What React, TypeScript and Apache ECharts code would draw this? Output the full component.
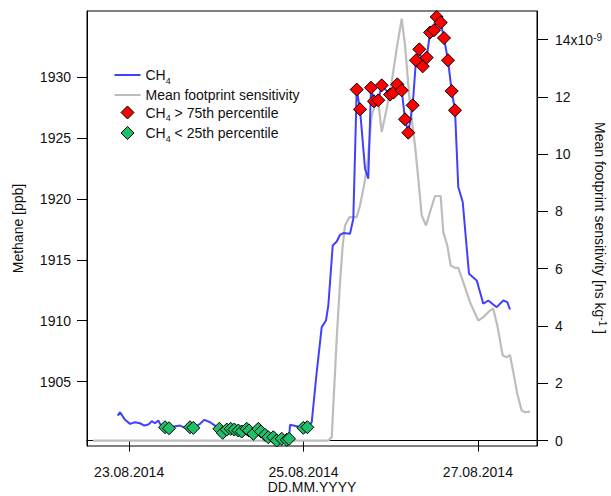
import React, { useEffect, useRef } from "react";
import * as echarts from "echarts";

const BASE = Date.UTC(2014, 7, 25); // 25.08.2014 00:00
const HOUR = 3600000;

const xTickLabels = ["23.08.2014", "25.08.2014", "27.08.2014"];
const xTickHours = [-48, 0, 48];
const leftTicks = [1905, 1910, 1915, 1920, 1925, 1930];
const rightTicks = [0, 2, 4, 6, 8, 10, 12, 14];

// CH4 line samples (hours from 25.08.2014 00:00, ppb) – excluding marker points
const ch4Hours = [
  -51.14, -50.5, -49.13, -47.75, -46.38, -45.0, -43.82, -42.72, -41.78, -40.87, -39.96, -39.5,
  -35.56, -33.99, -32.61, -28.49, -27.3, -25.73, -24.36, -3.72, -1.87, 2.26, 3.63, 5.01, 6.19,
  6.83, 8.04, 9.14, 10.05, 10.95, 12.8, 13.71, 16.93, 17.83, 42.6, 43.82, 45.55, 47.67, 49.49,
  50.86, 53.17, 54.99, 56.09, 56.84,
];
const ch4Ppb = [
  1902.2, 1902.48, 1901.85, 1901.52, 1901.65, 1901.57, 1901.38, 1901.46, 1901.74, 1901.57, 1901.79,
  1901.52, 1901.3, 1901.38, 1901.19, 1901.52, 1901.85, 1901.65, 1901.38, 1901.44, 1901.32, 1901.65,
  1905.76, 1909.47, 1910.02, 1911.25, 1916.18, 1916.51, 1917.06, 1917.2, 1917.15, 1918.38, 1922.49,
  1921.67, 1920.98, 1919.75, 1913.86, 1913.31, 1911.39, 1911.66, 1911.11, 1911.66, 1911.52, 1910.92,
];

// CH4 > 75th percentile
const highHours = [
  14.64, 15.55, 18.58, 19.4, 20.59, 21.52, 23.81, 24.72, 25.82, 27.03, 27.94, 28.84, 30.05, 30.96,
  31.87, 32.81, 33.91, 34.82, 35.92, 36.66, 37.76, 38.67, 39.77, 40.79, 41.7,
];
const highPpb = [
  1928.99, 1927.37, 1929.15, 1928.03, 1928.11, 1929.34, 1928.58, 1928.74, 1929.42, 1928.93, 1926.55,
  1925.45, 1927.7, 1931.4, 1932.3, 1930.9, 1931.62, 1933.68, 1933.87, 1934.96, 1934.5, 1933.23,
  1931.4, 1928.87, 1927.29,
];

// CH4 < 25th percentile
const lowHours = [
  -38.12, -37.02, -31.24, -30.33, -23.17, -22.24, -21.14, -20.04, -19.05, -17.94, -17.01, -15.63,
  -15.0, -13.82, -12.44, -11.7, -10.6, -9.69, -8.31, -7.38, -6.0, -4.62, -3.99, -0.06, 1.05,
];
const lowPpb = [
  1901.24, 1901.16, 1901.24, 1901.19, 1901.11, 1900.78, 1901.05, 1901.11, 1901.05, 1900.97, 1900.89,
  1901.11, 1900.97, 1900.7, 1901.11, 1900.89, 1900.62, 1900.42, 1900.42, 1900.15, 1900.29, 1900.21,
  1900.29, 1901.19, 1901.24,
];

// Mean footprint sensitivity (x1e-9 ns kg^-1)
const footHours = [
  -57.94, 6.83, 7.76, 8.2, 9.14, 10.05, 10.79, 11.42, 12.61, 14.64, 15.55, 16.65, 17.56, 18.77,
  19.68, 20.59, 21.52, 22.9, 24.28, 25.65, 27.03, 27.94, 29.32, 30.69, 31.6, 32.53, 33.72, 34.82,
  36.19, 37.76, 38.48, 39.58, 40.51, 41.7, 42.6, 43.98, 45.83, 48.11, 49.49, 51.33, 52.24, 53.34,
  54.83, 55.93, 56.84, 57.74, 58.84, 60.05, 60.96, 62.34,
];
const footSens = [
  0, 0, 0.12, 1.22, 3.56, 5.53, 6.81, 7.51, 7.8, 7.8, 8.21, 8.91, 9.61, 11.36, 11.71, 11.82, 10.77,
  11.59, 12.52, 13.69, 14.73, 13.8, 11.71, 10.31, 9.14, 7.86, 7.51, 7.98, 8.54, 8.54, 7.28, 6.81,
  6.11, 6.03, 6.03, 5.53, 4.83, 4.19, 4.31, 4.54, 4.6, 4.02, 2.97, 2.91, 2.99, 2.39, 1.63, 1.05,
  0.99, 1.01,
];

const FONT = "'Liberation Sans', Arial, Helvetica, sans-serif";
const TXT = "#111";
const BLUE = "#4040ff";
const GRAY = "#bdbdbd";
const RED = "#ff0000";
const GREEN = "#1fbf6a";

// legend icons: bounding box fixed to 26x14 by degenerate sub-paths
const LINE_ICON = "path://M0,0 L0,0 M0,14 L0,14 M0,6 L26,6 L26,8 L0,8 Z";
const DIAMOND_ICON = "path://M0,0 L0,0 M26,14 L26,14 M13,0.5 L19.5,7 L13,13.5 L6.5,7 Z";

const toPts = (hs: number[], vs: number[]) => hs.map((h, i) => [BASE + h * HOUR, vs[i]]);

export default function App() {
  const ref = useRef<HTMLDivElement>(null);
  useEffect(() => {
    if (!ref.current) return;
    const chart = echarts.init(ref.current, null, { renderer: "svg" });
    const ch4All = [
      ...toPts(ch4Hours, ch4Ppb),
      ...toPts(highHours, highPpb),
      ...toPts(lowHours, lowPpb),
    ].sort((a, b) => a[0] - b[0]);

    const supRich = {
      m: { fontSize: 14, fontFamily: FONT, color: TXT, lineHeight: 14, verticalAlign: "bottom" },
      s: { fontSize: 10, fontFamily: FONT, color: TXT, lineHeight: 10, verticalAlign: "top", padding: [0, 0, 10, 0] },
    };
    const titleRich = {
      n: { fontSize: 14, fontFamily: FONT, fill: TXT, color: TXT, lineHeight: 14, verticalAlign: "bottom" },
      s: { fontSize: 10, fontFamily: FONT, fill: TXT, color: TXT, lineHeight: 10, verticalAlign: "top", padding: [0, 0, 9, 0] },
    };
    const subRich = {
      n: { fontSize: 14, fontFamily: FONT, color: TXT, lineHeight: 14, verticalAlign: "top" },
      b: { fontSize: 9, fontFamily: FONT, color: TXT, lineHeight: 9, verticalAlign: "top", padding: [8, 0, 0, 0] },
    };
    const legendFmt: Record<string, string> = {
      CH4: "{n|CH}{b|4}",
      "Mean footprint sensitivity": "{n|Mean footprint sensitivity}",
      "CH4 > 75th percentile": "{n|CH}{b|4}{n| > 75th percentile}",
      "CH4 < 25th percentile": "{n|CH}{b|4}{n| < 25th percentile}",
    };

    const option: any = {
      animation: false,
      backgroundColor: "#fff",
      textStyle: { fontFamily: FONT },
      grid: {
        left: 87,
        right: 74,
        top: 11,
        bottom: 50,
        show: true,
        borderColor: "#000",
        borderWidth: 1,
        backgroundColor: "transparent",
        containLabel: false,
        outerBoundsMode: "none",
      },
      graphic: [
        {
          type: "text",
          x: 600,
          y: 228,
          rotation: -Math.PI / 2,
          style: {
            text: "{n|Mean footprint sensitivity [ns kg}{s|-1}{n| ]}",
            rich: titleRich,
            fontSize: 14,
            fontFamily: FONT,
            fill: TXT,
            align: "center",
            verticalAlign: "middle",
          },
        },
      ],
      legend: {
        orient: "vertical",
        left: 114,
        top: 68,
        padding: 0,
        itemWidth: 26,
        itemHeight: 14,
        itemGap: 3,
        symbolKeepAspect: true,
        data: [
          { name: "CH4", icon: LINE_ICON, itemStyle: { color: BLUE, borderWidth: 0 } },
          { name: "Mean footprint sensitivity", icon: LINE_ICON, itemStyle: { color: GRAY, borderWidth: 0 } },
          { name: "CH4 > 75th percentile", icon: DIAMOND_ICON, itemStyle: { color: RED, borderColor: "#000", borderWidth: 1 } },
          { name: "CH4 < 25th percentile", icon: DIAMOND_ICON, itemStyle: { color: GREEN, borderColor: "#000", borderWidth: 1 } },
        ],
        formatter: (name: string) => legendFmt[name] || name,
        textStyle: { fontSize: 14, fontFamily: FONT, color: TXT, rich: subRich },
      },
      xAxis: {
        type: "value",
        min: BASE - 59.6 * HOUR,
        max: BASE + 64.27 * HOUR,
        name: "DD.MM.YYYY",
        nameLocation: "middle",
        nameGap: 34,
        nameMoveOverlap: false,
        nameTextStyle: { fontSize: 14, fontFamily: FONT, color: TXT, lineHeight: 14 },
        axisLine: { show: true, lineStyle: { color: "#000", width: 1 } },
        axisTick: {
          show: true,
          length: 11,
          inside: false,
          lineStyle: { color: "#000", width: 1 },
          customValues: xTickHours.map((h) => BASE + h * HOUR),
        },
        axisLabel: {
          fontSize: 14,
          fontFamily: FONT,
          color: TXT,
          margin: 19,
          customValues: xTickHours.map((h) => BASE + h * HOUR),
          formatter: (v: number) => {
            const i = xTickHours.findIndex((h) => Math.abs(BASE + h * HOUR - v) < 1000);
            return i >= 0 ? xTickLabels[i] : "";
          },
        },
        splitLine: { show: false },
      },
      yAxis: [
        {
          type: "value",
          position: "left",
          min: 1899.7,
          max: 1935.45,
          name: "Methane [ppb]",
          nameLocation: "middle",
          nameGap: 62,
          nameMoveOverlap: false,
          nameTextStyle: { fontSize: 14, fontFamily: FONT, color: TXT },
          axisLine: { show: true, lineStyle: { color: "#000", width: 1 } },
          axisTick: { show: true, length: 10, lineStyle: { color: "#000", width: 1 }, customValues: leftTicks },
          axisLabel: {
            fontSize: 14,
            fontFamily: FONT,
            color: TXT,
            margin: 16,
            customValues: leftTicks,
            formatter: (v: number) => String(v),
          },
          splitLine: { show: false },
        },
        {
          type: "value",
          position: "right",
          min: -0.19,
          max: 15.0,
          axisLine: { show: true, lineStyle: { color: "#000", width: 1 } },
          axisTick: { show: true, length: 11, lineStyle: { color: "#000", width: 1 }, customValues: rightTicks },
          axisLabel: {
            fontSize: 14,
            fontFamily: FONT,
            color: TXT,
            margin: 18,
            customValues: rightTicks,
            rich: supRich,
            formatter: (v: number) => (v === 14 ? "{m|14x10}{s|-9}" : String(v)),
          },
          splitLine: { show: false },
        },
      ],
      series: [
        {
          name: "Mean footprint sensitivity",
          type: "line",
          yAxisIndex: 1,
          data: toPts(footHours, footSens),
          symbol: "none",
          lineStyle: { color: GRAY, width: 2.2 },
          itemStyle: { color: GRAY },
          z: 2,
        },
        {
          name: "CH4",
          type: "line",
          yAxisIndex: 0,
          data: ch4All,
          symbol: "none",
          lineStyle: { color: BLUE, width: 2 },
          itemStyle: { color: BLUE },
          z: 3,
        },
        {
          name: "CH4 > 75th percentile",
          type: "scatter",
          yAxisIndex: 0,
          data: toPts(highHours, highPpb),
          symbol: "diamond",
          symbolSize: 13,
          itemStyle: { color: RED, borderColor: "#000", borderWidth: 1, opacity: 1 },
          z: 4,
        },
        {
          name: "CH4 < 25th percentile",
          type: "scatter",
          yAxisIndex: 0,
          data: toPts(lowHours, lowPpb),
          symbol: "diamond",
          symbolSize: 13,
          itemStyle: { color: GREEN, borderColor: "#000", borderWidth: 1, opacity: 1 },
          z: 4,
        },
      ],
    };
    chart.setOption(option);
    return () => chart.dispose();
  }, []);
  return (
    <div
      ref={ref}
      style={{ position: "fixed", left: 0, top: 0, width: 611, height: 496, background: "#fff" }}
    />
  );
}
